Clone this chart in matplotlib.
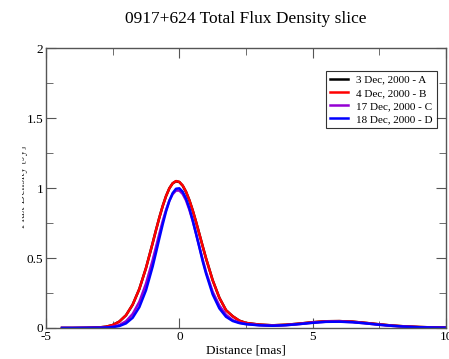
import matplotlib
matplotlib.use("Agg")
import matplotlib.pyplot as plt
from matplotlib.ticker import MultipleLocator, FuncFormatter
from matplotlib.transforms import Bbox, TransformedBbox

plt.rcParams["font.family"] = ["Liberation Serif", "DejaVu Serif"]

# distance along the slice [mas]
dist = [-4.4, -4.0, -3.5, -3.0, -2.75, -2.5, -2.25, -2.0, -1.75, -1.5,
        -1.25, -1.0, -0.875, -0.75, -0.625, -0.5, -0.375, -0.25, -0.125, 0.0,
        0.125, 0.25, 0.375, 0.5, 0.625, 0.75, 0.875, 1.0, 1.25, 1.5,
        1.75, 2.0, 2.25, 2.5, 3.0, 3.5, 4.0, 4.5, 5.0, 5.5,
        6.0, 6.5, 7.0, 7.5, 8.0, 8.5, 9.0, 9.5, 10.0]

flux_a = [0.0, 0.0, 0.001, 0.004, 0.009, 0.021, 0.046, 0.091, 0.167, 0.279,
          0.429, 0.607, 0.700, 0.789, 0.871, 0.942, 0.998, 1.034, 1.048, 1.043,
          1.017, 0.973, 0.913, 0.841, 0.759, 0.672, 0.584, 0.498, 0.341, 0.216,
          0.127, 0.084, 0.052, 0.036, 0.024, 0.019, 0.023, 0.031, 0.041, 0.048,
          0.049, 0.045, 0.036, 0.026, 0.017, 0.011, 0.007, 0.004, 0.003]
flux_b = [0.0, 0.0, 0.001, 0.004, 0.009, 0.021, 0.046, 0.091, 0.167, 0.279,
          0.429, 0.607, 0.700, 0.789, 0.871, 0.942, 0.998, 1.034, 1.050, 1.044,
          1.018, 0.974, 0.914, 0.841, 0.759, 0.672, 0.584, 0.498, 0.341, 0.216,
          0.127, 0.084, 0.052, 0.036, 0.024, 0.019, 0.023, 0.031, 0.041, 0.048,
          0.049, 0.045, 0.036, 0.026, 0.017, 0.011, 0.007, 0.004, 0.003]
flux_c = [0.0, 0.0, 0.001, 0.002, 0.004, 0.009, 0.021, 0.048, 0.100, 0.187,
          0.317, 0.485, 0.579, 0.673, 0.763, 0.843, 0.910, 0.957, 0.982, 0.982,
          0.958, 0.912, 0.846, 0.766, 0.676, 0.582, 0.489, 0.401, 0.258, 0.160,
          0.094, 0.056, 0.038, 0.029, 0.020, 0.017, 0.020, 0.028, 0.038, 0.045,
          0.046, 0.042, 0.033, 0.023, 0.015, 0.009, 0.005, 0.003, 0.002]
flux_d = [0.0, 0.0, 0.001, 0.002, 0.003, 0.006, 0.014, 0.033, 0.073, 0.149,
          0.270, 0.440, 0.539, 0.641, 0.740, 0.832, 0.908, 0.964, 0.995, 0.998,
          0.974, 0.925, 0.855, 0.770, 0.674, 0.577, 0.477, 0.390, 0.240, 0.140,
          0.080, 0.050, 0.035, 0.027, 0.019, 0.016, 0.020, 0.028, 0.037, 0.044,
          0.045, 0.041, 0.033, 0.023, 0.015, 0.009, 0.005, 0.003, 0.002]

labels = ["3 Dec, 2000 - A", "4 Dec, 2000 - B", "17 Dec, 2000 - C", "18 Dec, 2000 - D"]
colors = ["black", "#ff0000", "#9400d3", "#0000ff"]

fig = plt.figure(figsize=(4.49, 3.59), dpi=100)
ax = fig.add_axes([0.1025, 0.0864, 0.8908, 0.7796])

for ys, lab, col in zip([flux_a, flux_b, flux_c, flux_d], labels, colors):
    ax.plot(dist, ys, color=col, lw=1.8, label=lab)

ax.set_xlim(-5, 10)
ax.set_ylim(0, 2)
ax.xaxis.set_major_locator(MultipleLocator(5))
ax.xaxis.set_minor_locator(MultipleLocator(2.5))
ax.yaxis.set_major_locator(MultipleLocator(0.5))
ax.yaxis.set_minor_locator(MultipleLocator(0.25))
ax.yaxis.set_major_formatter(FuncFormatter(lambda v, p: "%g" % v))
ax.xaxis.set_major_formatter(FuncFormatter(lambda v, p: "%g" % v))
ax.tick_params(which="both", direction="in", top=True, right=True,
               labelsize=9.5, color="#555555", pad=2)
ax.tick_params(which="major", length=7)
ax.tick_params(which="minor", length=5)
for s in ax.spines.values():
    s.set_color("#555555")
    s.set_linewidth(1.0)

ax.set_xlabel("Distance [mas]", fontsize=9.5, labelpad=1)
fig.suptitle("0917+624 Total Flux Density slice", x=0.548, y=0.97, fontsize=12.5)

# y label is cut off on the left in the original
yl = fig.text(0.05, 0.479, "Flux Density [Jy]", rotation=90, fontsize=8.5,
              ha="center", va="center", color="#333333")
yl.set_clip_box(TransformedBbox(Bbox([[0.049, 0], [1, 1]]), fig.transFigure))
yl.set_clip_on(True)

leg = ax.legend(loc="upper right", bbox_to_anchor=(0.9775, 0.918), fontsize=8,
                frameon=True, fancybox=False, handlelength=1.6, labelspacing=0.3,
                borderpad=0.35, handletextpad=0.8, borderaxespad=0)
leg.get_frame().set_edgecolor("black")
leg.get_frame().set_linewidth(0.8)

fig.savefig("out.png", dpi=100)
